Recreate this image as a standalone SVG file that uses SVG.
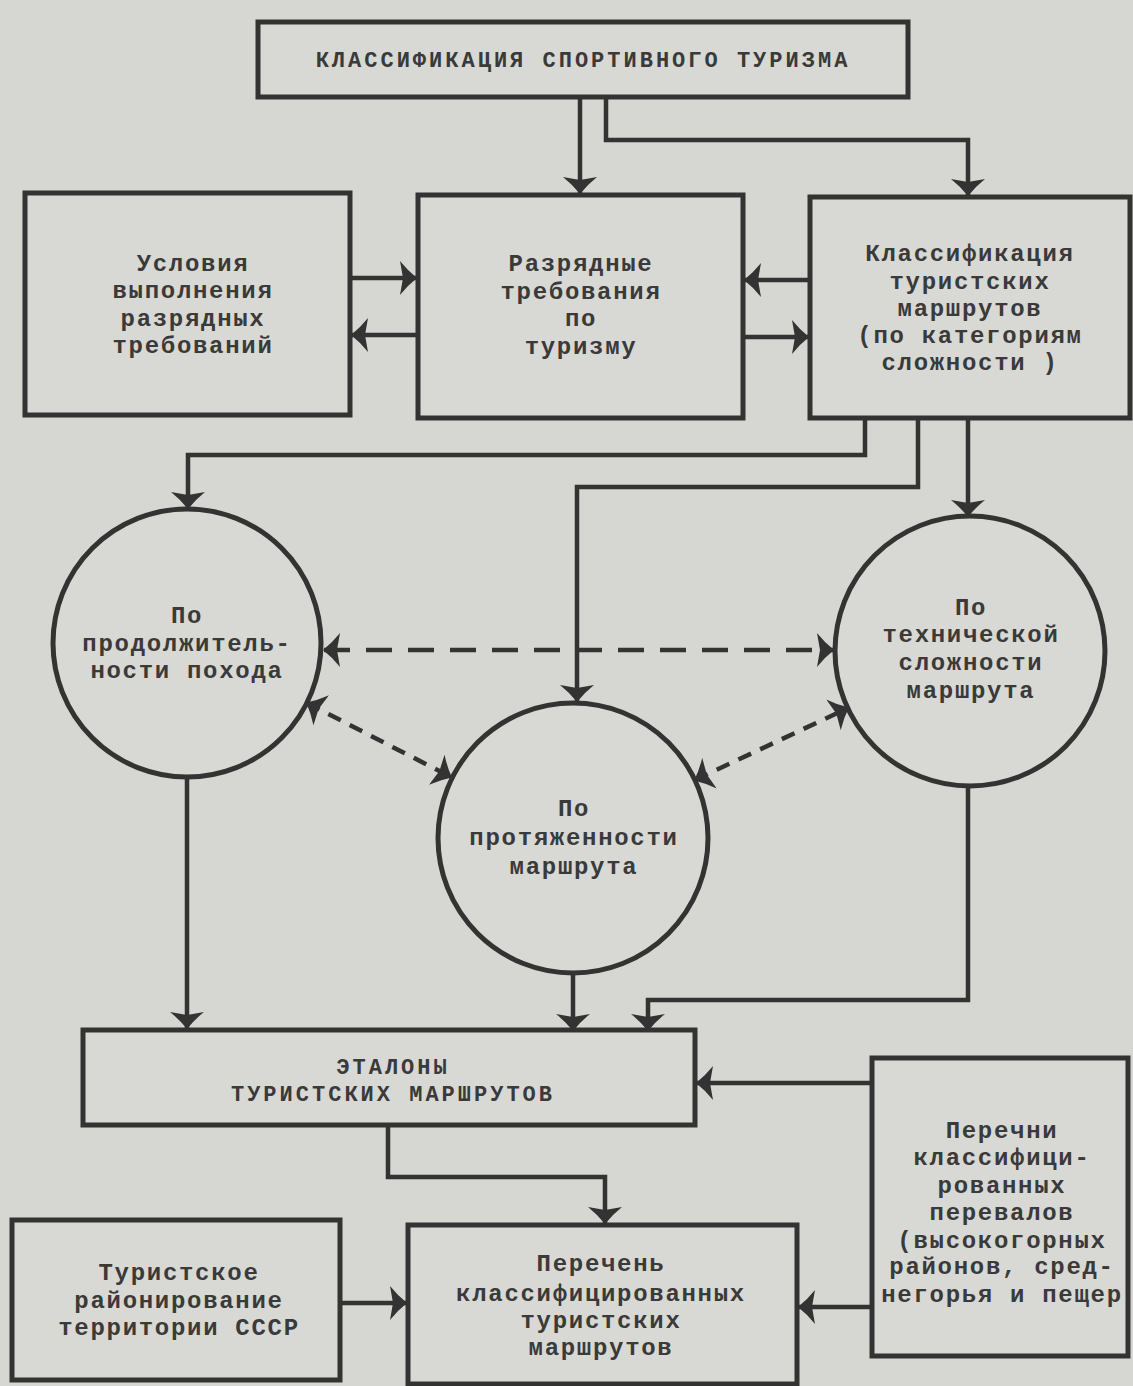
<svg xmlns="http://www.w3.org/2000/svg" width="1133" height="1386" viewBox="0 0 1133 1386">
<style>
.bg{fill:#d6d6d2}
.box{fill:#d8d8d4;stroke:#333;stroke-width:5}
.t{font-family:"Liberation Mono",monospace;font-size:24px;font-weight:bold;fill:#3a3a3a;letter-spacing:1.7px;text-anchor:middle}
.tc{font-size:22px;letter-spacing:3px}
.c{fill:none;stroke:#333;stroke-width:4.5}
.d1{fill:none;stroke:#333;stroke-width:4.5;stroke-dasharray:26 16}
.d2{fill:none;stroke:#333;stroke-width:4.5;stroke-dasharray:14 10}
</style>
<defs>
<marker id="a" viewBox="0 0 17 34" refX="16" refY="17" markerWidth="17" markerHeight="34" markerUnits="userSpaceOnUse" orient="auto-start-reverse">
<path d="M0,0 Q8,10 17,17 Q8,24 0,34 L3,17 z" fill="#333"/>
</marker>
</defs>
<rect class="bg" x="0" y="0" width="1133" height="1386"/>

<g id="connectors">
<path class="c" d="M580,97 V193" marker-end="url(#a)"/>
<path class="c" d="M606,97 V140 H968 V195" marker-end="url(#a)"/>
<path class="c" d="M350,278 H416" marker-end="url(#a)"/>
<path class="c" d="M418,335 H352" marker-end="url(#a)"/>
<path class="c" d="M810,280 H745" marker-end="url(#a)"/>
<path class="c" d="M743,337 H808" marker-end="url(#a)"/>
<path class="c" d="M865,418 V455 H188 V508" marker-end="url(#a)"/>
<path class="c" d="M918,418 V487 H577 V701" marker-end="url(#a)"/>
<path class="c" d="M968,418 V516" marker-end="url(#a)"/>
<path class="d1" d="M324,650 H833" marker-start="url(#a)" marker-end="url(#a)"/>
<path class="d2" d="M307,703 L451,777" marker-start="url(#a)" marker-end="url(#a)"/>
<path class="d2" d="M695,780 L848,708" marker-start="url(#a)" marker-end="url(#a)"/>
<path class="c" d="M187,777 V1028" marker-end="url(#a)"/>
<path class="c" d="M573,973 V1030" marker-end="url(#a)"/>
<path class="c" d="M968,785 V1000 H648 V1030" marker-end="url(#a)"/>
<path class="c" d="M872,1083 H697" marker-end="url(#a)"/>
<path class="c" d="M388,1125 V1177 H605 V1223" marker-end="url(#a)"/>
<path class="c" d="M340,1303 H406" marker-end="url(#a)"/>
<path class="c" d="M872,1307 H799" marker-end="url(#a)"/>
</g>

<g id="title">
<rect class="box" x="258" y="22" width="650" height="75"/>
<text class="t tc" x="583" y="67">КЛАССИФИКАЦИЯ СПОРТИВНОГО ТУРИЗМА</text>
</g>

<g id="usloviya">
<rect class="box" x="25" y="193" width="325" height="222"/>
<text class="t" x="193" y="271">Условия</text>
<text class="t" x="193" y="298">выполнения</text>
<text class="t" x="193" y="326">разрядных</text>
<text class="t" x="193" y="353">требований</text>
</g>

<g id="razryadnye">
<rect class="box" x="418" y="195" width="325" height="223"/>
<text class="t" x="581" y="271">Разрядные</text>
<text class="t" x="581" y="299">требования</text>
<text class="t" x="581" y="326">по</text>
<text class="t" x="581" y="354">туризму</text>
</g>

<g id="klassifikaciya">
<rect class="box" x="810" y="197" width="320" height="221"/>
<text class="t" x="970" y="261">Классификация</text>
<text class="t" x="970" y="289">туристских</text>
<text class="t" x="970" y="316">маршрутов</text>
<text class="t" x="970" y="343">(по категориям</text>
<text class="t" x="970" y="370">сложности )</text>
</g>

<g id="prodolzhitelnost">
<circle class="box" cx="187" cy="643" r="134"/>
<text class="t" x="187" y="623">По</text>
<text class="t" x="187" y="651">продолжитель-</text>
<text class="t" x="187" y="678">ности похода</text>
</g>

<g id="protyazhennost">
<circle class="box" cx="573" cy="838" r="135"/>
<text class="t" x="574" y="816">По</text>
<text class="t" x="574" y="845">протяженности</text>
<text class="t" x="574" y="874">маршрута</text>
</g>

<g id="tehnicheskaya">
<circle class="box" cx="970" cy="651" r="135"/>
<text class="t" x="971" y="615">По</text>
<text class="t" x="971" y="642">технической</text>
<text class="t" x="971" y="670">сложности</text>
<text class="t" x="971" y="698">маршрута</text>
</g>

<g id="etalony">
<rect class="box" x="83" y="1030" width="612" height="95"/>
<text class="t tc" x="393" y="1074">ЭТАЛОНЫ</text>
<text class="t tc" x="393" y="1101">ТУРИСТСКИХ МАРШРУТОВ</text>
</g>

<g id="perechni">
<rect class="box" x="872" y="1058" width="256" height="298"/>
<text class="t" x="1002" y="1138">Перечни</text>
<text class="t" x="1002" y="1165">классифици-</text>
<text class="t" x="1002" y="1193">рованных</text>
<text class="t" x="1002" y="1220">перевалов</text>
<text class="t" x="1002" y="1248">(высокогорных</text>
<text class="t" x="1002" y="1274">районов, сред-</text>
<text class="t" x="1002" y="1302">негорья и пещер</text>
</g>

<g id="turistskoe">
<rect class="box" x="12" y="1220" width="328" height="160"/>
<text class="t" x="179" y="1280">Туристское</text>
<text class="t" x="179" y="1308">районирование</text>
<text class="t" x="179" y="1335">территории СССР</text>
</g>

<g id="perechen">
<rect class="box" x="408" y="1225" width="389" height="159"/>
<text class="t" x="601" y="1271">Перечень</text>
<text class="t" x="601" y="1301">классифицированных</text>
<text class="t" x="601" y="1328">туристских</text>
<text class="t" x="601" y="1355">маршрутов</text>
</g>
</svg>
